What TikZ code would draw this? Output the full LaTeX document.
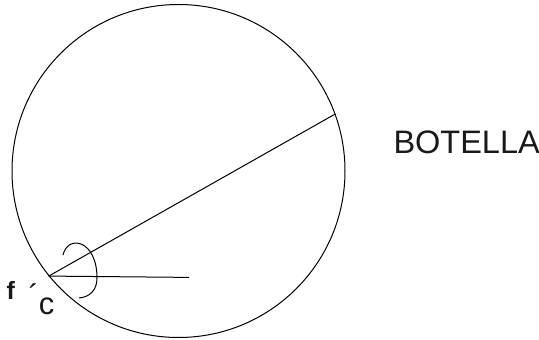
\documentclass[tikz,border=0pt]{standalone}
\usepackage{fontspec}
\setmainfont{Liberation Sans}
\begin{document}
\begin{tikzpicture}[x=1pt,y=1pt,line width=1pt,
  lbl/.style={inner sep=0pt,anchor=base west,text=black!90}]
\useasboundingbox (0,0) rectangle (539,340);
\node[draw,circle,minimum size=333pt,inner sep=0pt] (c) at (178.5,169) {};
\coordinate (v) at (c.219.7);
\coordinate (e) at (c.20);
\coordinate (h) at (189,62.6);
\draw (v) -- (e);
\draw (v) -- (h);
\coordinate (a0) at (63,85);
\coordinate (a1) at (97,62);
\coordinate (a2) at (79,42);
\draw (a0) .. controls (68,106) and (97,100) .. (a1) .. controls (97,50) and (90,43) .. (a2);
\node[lbl] (f) at (6,40) {\fontsize{25}{25}\selectfont\bfseries f};
\node[lbl] (cc) at (28,25) {\fontsize{31}{31}\selectfont\raisebox{8pt}{´}c};
\node[lbl] (bot) at (393,186) {\fontsize{32.5}{32.5}\selectfont BOTELLA};
\end{tikzpicture}
\end{document}
